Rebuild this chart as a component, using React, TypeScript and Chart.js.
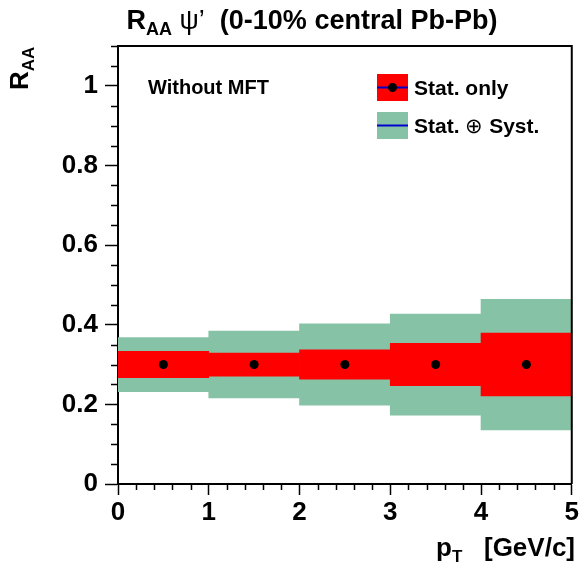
import React, { useEffect, useRef } from 'react';
import { Chart, registerables } from 'chart.js';

Chart.register(...registerables);

// pT bins (GeV/c): centres of the unit-width bins 0-1 ... 4-5
const binCenters = [0.5, 1.5, 2.5, 3.5, 4.5];
// R_AA central values
const raaValues = [0.3, 0.3, 0.3, 0.3, 0.3];
// statistical uncertainty (half height of red boxes)
const statErrors = [0.033, 0.029, 0.037, 0.053, 0.079];
// statistical (+) systematic uncertainty (half height of green boxes)
const totalErrors = [0.068, 0.084, 0.102, 0.127, 0.164];

const xTickValues = [0, 1, 2, 3, 4, 5];
const yTickValues = [0, 0.2, 0.4, 0.6, 0.8, 1];
const xRange = [0, 5];
const yRange = [0, 1.1];

const FONT = '"Liberation Sans", Arial, Helvetica, sans-serif';
const RED = '#ff0000';
const GREEN = '#86c3a6';
const BLUE = '#0000cc';

type Seg = { t: string; size: number; dy?: number; weight?: string };

function drawSegments(ctx: CanvasRenderingContext2D, segs: Seg[], x: number, y: number, align: 'left' | 'center' | 'right') {
  const widths = segs.map((s) => {
    ctx.font = `${s.weight ?? 'bold'} ${s.size}px ${FONT}`;
    return ctx.measureText(s.t).width;
  });
  const total = widths.reduce((a, b) => a + b, 0);
  let cx = align === 'left' ? x : align === 'center' ? x - total / 2 : x - total;
  ctx.textAlign = 'left';
  ctx.textBaseline = 'alphabetic';
  segs.forEach((s, i) => {
    ctx.font = `${s.weight ?? 'bold'} ${s.size}px ${FONT}`;
    ctx.fillText(s.t, cx, y + (s.dy ?? 0));
    cx += widths[i];
  });
}

// minor ticks, frame, titles and legend
const decorations = {
  id: 'decorations',
  afterDraw(chart: any) {
    const ctx: CanvasRenderingContext2D = chart.ctx;
    const { left, right, top, bottom } = chart.chartArea;
    const xs = chart.scales.x;
    const ys = chart.scales.y;
    ctx.save();
    ctx.strokeStyle = '#000';
    ctx.lineWidth = 1.5;

    // minor ticks on y (every 0.05)
    ctx.beginPath();
    for (let k = 0; k <= 22; k++) {
      if (k % 4 === 0) continue;
      const py = Math.round(ys.getPixelForValue(k * 0.05)) + 0.5;
      ctx.moveTo(left - 7, py);
      ctx.lineTo(left, py);
    }
    // minor ticks on x (every 0.2)
    for (let k = 0; k <= 25; k++) {
      if (k % 5 === 0) continue;
      const px = Math.round(xs.getPixelForValue(k * 0.2)) + 0.5;
      ctx.moveTo(px, bottom);
      ctx.lineTo(px, bottom + 6);
    }
    ctx.stroke();

    // frame top and right
    ctx.lineWidth = 2;
    ctx.beginPath();
    ctx.moveTo(left, top);
    ctx.lineTo(right, top);
    ctx.lineTo(right, bottom);
    ctx.stroke();

    ctx.fillStyle = '#000';
    // title
    drawSegments(
      ctx,
      [
        { t: 'R', size: 27 },
        { t: 'AA', size: 18, dy: 6 },
        { t: ' ψ’', size: 27, weight: 'normal' },
        { t: '  (0-10% central Pb-Pb)', size: 27 },
      ],
      312,
      29,
      'center'
    );

    // y-axis title (rotated)
    ctx.save();
    ctx.translate(28, 90);
    ctx.rotate(-Math.PI / 2);
    drawSegments(ctx, [{ t: 'R', size: 26 }, { t: 'AA', size: 17, dy: 6 }], 0, 0, 'left');
    ctx.restore();

    // x-axis title
    drawSegments(
      ctx,
      [
        { t: 'p', size: 26 },
        { t: 'T', size: 17, dy: 6 },
        { t: '   [GeV/c]', size: 26 },
      ],
      575,
      556,
      'right'
    );

    // label inside the frame
    drawSegments(ctx, [{ t: 'Without MFT', size: 20 }], 148, 94, 'left');

    // legend
    const bx = 377;
    const bw = 31;
    const bh = 27;
    const rows = [
      { y: 74, color: RED, label: [{ t: 'Stat. only', size: 21 }], point: true },
      {
        y: 112,
        color: GREEN,
        label: [
          { t: 'Stat. ', size: 21 },
          { t: '⊕', size: 21, weight: 'normal' },
          { t: ' Syst.', size: 21 },
        ],
        point: false,
      },
    ];
    rows.forEach((r) => {
      ctx.fillStyle = r.color;
      ctx.fillRect(bx, r.y, bw, bh);
      ctx.strokeStyle = BLUE;
      ctx.lineWidth = 2;
      ctx.beginPath();
      ctx.moveTo(bx, r.y + bh / 2);
      ctx.lineTo(bx + bw, r.y + bh / 2);
      ctx.stroke();
      if (r.point) {
        ctx.fillStyle = '#000';
        ctx.beginPath();
        ctx.arc(bx + bw / 2, r.y + bh / 2, 4.5, 0, Math.PI * 2);
        ctx.fill();
      }
      ctx.fillStyle = '#000';
      drawSegments(ctx, r.label as Seg[], 414, r.y + bh / 2 + 7.5, 'left');
    });
    ctx.restore();
  },
};

export default function App() {
  const canvasRef = useRef<HTMLCanvasElement | null>(null);

  useEffect(() => {
    const canvas = canvasRef.current;
    if (!canvas) return;

    const totalBoxes = binCenters.map((x, i) => ({
      x,
      y: [raaValues[i] - totalErrors[i], raaValues[i] + totalErrors[i]],
    }));
    const statBoxes = binCenters.map((x, i) => ({
      x,
      y: [raaValues[i] - statErrors[i], raaValues[i] + statErrors[i]],
    }));
    const points = binCenters.map((x, i) => ({ x, y: raaValues[i] }));

    const boxStyle = {
      grouped: false,
      barPercentage: 1,
      categoryPercentage: 1,
      borderWidth: 0,
      borderSkipped: false,
    };

    const chart = new Chart(canvas, {
      type: 'bar',
      data: {
        datasets: [
          { ...boxStyle, type: 'bar', label: 'Stat. ⊕ Syst.', data: totalBoxes as any, backgroundColor: GREEN, order: 3 },
          { ...boxStyle, type: 'bar', label: 'Stat. only', data: statBoxes as any, backgroundColor: RED, order: 2 },
          {
            type: 'scatter',
            label: 'R_AA',
            data: points,
            pointRadius: 4.5,
            pointHoverRadius: 4.5,
            backgroundColor: '#000',
            borderWidth: 0,
            order: 1,
          } as any,
        ],
      },
      options: {
        responsive: false,
        animation: false,
        devicePixelRatio: 1,
        layout: { padding: { top: 46, right: 7, left: 0, bottom: 0 } },
        plugins: {
          legend: { display: false },
          tooltip: { enabled: false },
          title: { display: false },
        },
        scales: {
          x: {
            type: 'linear',
            offset: false,
            min: xRange[0],
            max: xRange[1],
            afterBuildTicks: (s: any) => {
              s.ticks = xTickValues.map((v) => ({ value: v }));
            },
            afterFit: (s: any) => {
              s.height = 86;
            },
            grid: {
              offset: false,
              drawOnChartArea: false,
              drawTicks: true,
              tickLength: 11,
              tickWidth: 1.5,
              tickColor: '#000',
              color: '#000',
            },
            border: { display: true, color: '#000', width: 2 },
            ticks: {
              autoSkip: false,
              maxRotation: 0,
              padding: 2,
              color: '#000',
              font: { family: FONT, size: 26, weight: 'bold' },
              callback: (v: any) => String(v),
            },
          },
          y: {
            type: 'linear',
            min: yRange[0],
            max: yRange[1],
            afterBuildTicks: (s: any) => {
              s.ticks = yTickValues.map((v) => ({ value: v }));
            },
            afterFit: (s: any) => {
              s.width = 118;
            },
            grid: {
              drawOnChartArea: false,
              drawTicks: true,
              tickLength: 13,
              tickWidth: 1.5,
              tickColor: '#000',
              color: '#000',
            },
            border: { display: true, color: '#000', width: 2 },
            ticks: {
              padding: 7,
              color: '#000',
              font: { family: FONT, size: 26, weight: 'bold' },
              callback: (v: any) => String(+Number(v).toFixed(2)),
            },
          },
        },
      } as any,
      plugins: [decorations],
    });

    return () => chart.destroy();
  }, []);

  return (
    <div style={{ position: 'absolute', left: 0, top: 0, width: 581, height: 570, background: '#fff' }}>
      <canvas ref={canvasRef} width={581} height={570} style={{ display: 'block' }} />
    </div>
  );
}
